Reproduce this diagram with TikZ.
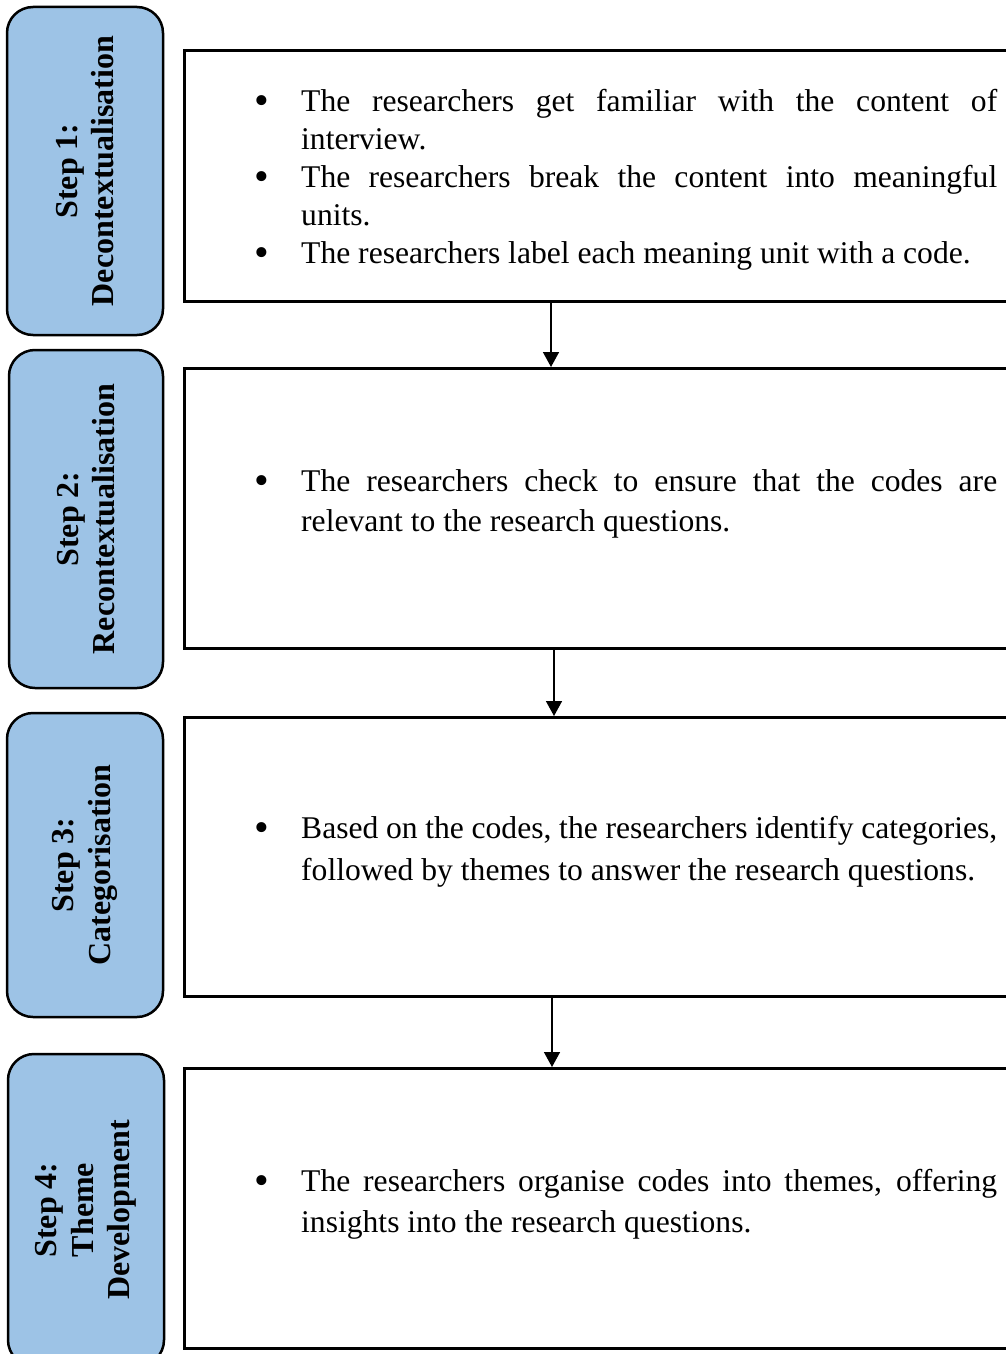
\documentclass[tikz,border=0pt]{standalone}
\usepackage{fontspec}
\setmainfont{Liberation Serif}
\usetikzlibrary{positioning, arrows.meta}

% one bullet point with hanging indent
\newcommand{\bulletline}[1]{\noindent\hangindent=47pt\hangafter=1\makebox[47pt][l]{\raisebox{-3pt}{\fontsize{42}{42}\selectfont\textbullet}}#1\par}

\begin{document}
\begin{tikzpicture}[
    x=1pt, y=-1pt,
    stepbox/.style={draw, line width=2.5pt, fill=stepblue, rounded corners=26pt, rotate=90,
        align=center, font=\bfseries\fontsize{32}{36.5}\selectfont, inner sep=0pt},
    textbox/.style={draw, line width=3pt, anchor=north west, minimum width=840pt, inner sep=0pt},
    bullets/.style={anchor=west, text width=743pt, align=justify, inner sep=0pt},
    flow/.style={-{Triangle[length=15pt, width=16pt]}, line width=1.6pt}
]
    \definecolor{stepblue}{RGB}{157,195,230}
    \useasboundingbox (0,0) rectangle (1005,1354);

    % === Step labels ===
    \node[stepbox, minimum width=328pt, minimum height=156pt] (step1) at (85,171) {Step 1:\\Decontextualisation};
    \node[stepbox, minimum width=338pt, minimum height=154pt] (step2) at (86,519) {Step 2:\\Recontextualisation};
    \node[stepbox, minimum width=304pt, minimum height=156pt] (step3) at (85,865) {Step 3:\\Categorisation};
    \node[stepbox, minimum width=312pt, minimum height=156pt] (step4) at (86,1210) {Step 4:\\Theme\\Development};

    % === Content boxes ===
    \node[textbox, minimum height=251pt] (box1) at (183,49) {};
    \node[textbox, minimum height=280pt] (box2) at (183,367) {};
    \node[textbox, minimum height=279pt] (box3) at (183,716) {};
    \node[textbox, minimum height=280pt] (box4) at (183,1067) {};

    % === Bullet texts ===
    \node[bullets, font=\fontsize{31.6}{38}\selectfont] (txt1) at (254,180) {%
        \bulletline{The researchers get familiar with the content of\linebreak interview.}
        \bulletline{The researchers break the content into meaningful\linebreak units.}
        \bulletline{The researchers label each meaning unit with a code.}};
    \node[bullets, font=\fontsize{31.6}{40}\selectfont] (txt2) at (254,504) {%
        \bulletline{The researchers check to ensure that the codes are\linebreak relevant to the research questions.}};
    \node[bullets, font=\fontsize{31.6}{42}\selectfont] (txt3) at (254,852) {%
        \bulletline{Based on the codes, the researchers identify categories,\linebreak followed by themes to answer the research questions.}};
    \node[bullets, font=\fontsize{31.6}{41}\selectfont] (txt4) at (254,1204) {%
        \bulletline{The researchers organise codes into themes, offering\linebreak insights into the research questions.}};

    % === Arrows ===
    \draw[flow] ([xshift=368pt]box1.south west) -- ([xshift=368pt]box2.north west);
    \draw[flow] ([xshift=371pt]box2.south west) -- ([xshift=371pt]box3.north west);
    \draw[flow] ([xshift=369pt]box3.south west) -- ([xshift=369pt]box4.north west);

\end{tikzpicture}
\end{document}
